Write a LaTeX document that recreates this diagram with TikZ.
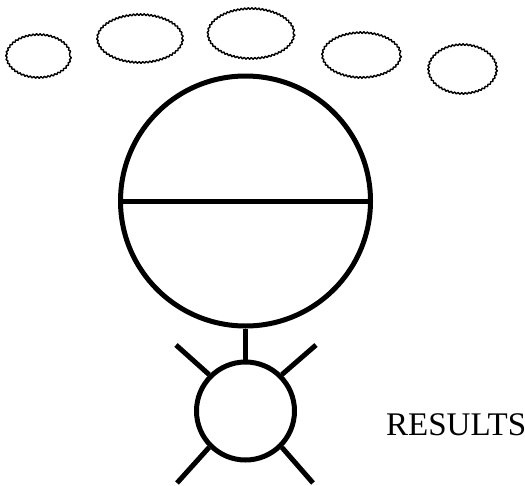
\documentclass[tikz,border=0pt]{standalone}
\usepackage{fontspec}
\setmainfont{Liberation Serif}
\usetikzlibrary{decorations.pathmorphing}
\tikzset{
  cloud/.style={draw=black, line width=1.4pt, line join=round,
    decorate, decoration={bumps, amplitude=1.8pt, segment length=7pt}},
  heavy/.style={draw=black, line width=5pt},
  spoke/.style={draw=black, line width=5pt},
}
\begin{document}
\begin{tikzpicture}[x=1pt,y=-1pt]
\useasboundingbox (0,0) rectangle (525,485);

% row of clouds along the top
\draw[cloud] (38.5,56) ellipse [x radius=31, y radius=20.5];
\draw[cloud] (140,38.5) ellipse [x radius=41.5, y radius=23];
\draw[cloud] (251,33.5) ellipse [x radius=42, y radius=24];
\draw[cloud] (361.5,55) ellipse [x radius=38, y radius=21.5];
\draw[cloud] (462.5,69) ellipse [x radius=33, y radius=23.5];

% large divided circle
\node[heavy, circle, minimum size=250pt, inner sep=0pt] (big) at (245.5,201) {};
\draw[heavy] (big.west) -- (big.east);

% small circle hanging below it
\node[heavy, circle, minimum size=98pt, inner sep=0pt] (small) at (245.5,411) {};
\draw[heavy] (big.south) -- (small.north);

% four spokes on the diagonals
\coordinate (pUL) at (176,345);
\coordinate (pUR) at (316,345);
\coordinate (pLL) at (177,483);
\coordinate (pLR) at (313,483);
\draw[spoke] (small.north west) -- (pUL);
\draw[spoke] (small.north east) -- (pUR);
\draw[spoke] (small.south west) -- (pLL);
\draw[spoke] (small.south east) -- (pLR);

\node[anchor=base west, font=\fontsize{33}{36}\selectfont, inner sep=0pt] (res) at (386,435) {RESULTS};
\end{tikzpicture}
\end{document}
